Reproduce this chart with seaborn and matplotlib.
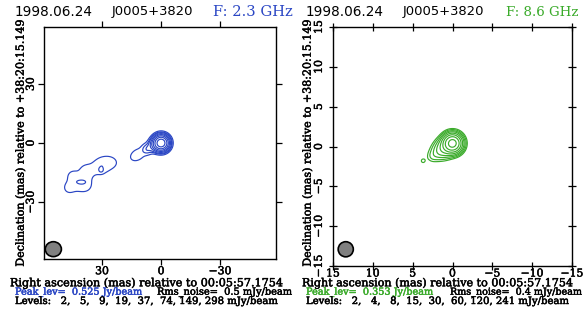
import numpy as np
import matplotlib
matplotlib.use("Agg")
import matplotlib.pyplot as plt
import matplotlib.patheffects as pe
import seaborn as sns
from matplotlib.patches import Ellipse

# ---------------- data ----------------
obs_date = "1998.06.24"
source_name = "J0005+3820"
freq_labels = ["F: 2.3 GHz", "F: 8.6 GHz"]
ra_ref = "00:05:57.1754"
dec_ref = "+38:20:15.149"
peak_jy = [0.525, 0.353]
rms_mjy = [0.5, 0.4]
levels_s = [2, 5, 9, 19, 37, 74, 149, 298]
levels_x = [2, 4, 8, 15, 30, 60, 120, 241]
ticks_s = [30, 0, -30]
ticks_x = [15, 10, 5, 0, -5, -10, -15]

# source model components:
# RA (mas), Dec (mas), peak (mJy/beam), sigma along PA (mas), sigma across (mas), PA (deg)
s_ra  = [0.0, 3.0, 7.0, 12.0, 27.0, 31.0, 38.0, 44.0, 38.5, 40.5, 47.0, 45.0, 30.5]
s_dec = [0.0, -1.0, -3.0, -6.0, -10.0, -12.5, -14.5, -20.5, -21.5, -19.8, -23.0, -16.5, -14.0]
s_amp = [515.0, 30.0, 8.0, 4.0, 3.3, 2.9, 3.2, 3.4, 3.0, 3.0, 2.4, 2.3, 3.0]
s_sa  = [1.85, 1.8, 1.7, 3.2, 4.2, 2.8, 3.2, 3.2, 2.8, 1.4, 1.8, 1.8, 0.9]
s_sb  = [1.85, 1.8, 1.7, 2.2, 3.0, 2.8, 3.2, 3.2, 2.8, 0.6, 1.8, 1.8, 0.9]
s_pa  = [0.0, 0.0, 0.0, -32.0, 0.0, 0.0, 0.0, 0.0, 0.0, 0.0, 0.0, 0.0, 0.0]

x_ra  = [0.0, 1.0, 1.9, 2.6, 3.7]
x_dec = [0.4, -0.2, -0.8, -1.3, -1.8]
x_amp = [330.0, 30.0, 7.0, 2.5, 2.5]
x_sa  = [0.58, 0.65, 0.6, 0.45, 0.3]
x_sb  = [0.58, 0.65, 0.6, 0.45, 0.3]
x_pa  = [0.0, 0.0, 0.0, 0.0, 0.0]

# restoring beams: RA, Dec, width, height (mas)
beam_s = [54.8, -54.0, 8.2, 7.6]
beam_x = [13.4, -12.9, 1.9, 1.9]

BLUE = "#2a46c4"
GREEN = "#3bab2b"
SERIF = "DejaVu Serif"

# ---------------- figure ----------------
sns.set_theme(style="ticks")
plt.rcParams['font.family'] = ['DejaVu Sans']
plt.rcParams['axes.linewidth'] = 1.0

W, H = 583, 313
fig = plt.figure(figsize=(W / 100, H / 100), dpi=100)
renderer = fig.canvas.get_renderer()


def heavy(color):
    return [pe.withStroke(linewidth=0.35, foreground=color)]


def model(ra, dec, amp, sa, sb, pa, xr, yr):
    X, Y = np.meshgrid(np.linspace(xr[0], xr[1], 500), np.linspace(yr[0], yr[1], 500))
    Z = np.zeros_like(X)
    for r, d, a, s1, s2, p in zip(ra, dec, amp, sa, sb, pa):
        t = np.deg2rad(p)
        dx, dy = X - r, Y - d
        u = dx * np.cos(t) + dy * np.sin(t)
        v = -dx * np.sin(t) + dy * np.cos(t)
        Z += a * np.exp(-0.5 * (u ** 2 / s1 ** 2 + v ** 2 / s2 ** 2))
    return X, Y, Z


def fit_text(x0, x1, y, s, color="black", family=SERIF, bold=True, size0=10):
    t = fig.text(x0 / W, 1 - y / H, s, ha="left", va="center", fontsize=size0,
                 family=family, color=color)
    w = t.get_window_extent(renderer=renderer).width
    t.set_fontsize(size0 * (x1 - x0) / w)
    if bold:
        t.set_path_effects(heavy(color))
    return t


def fit_vtext(xc, y0, y1, s, family=SERIF, size0=10):
    t = fig.text(xc / W, 1 - (y0 + y1) / 2 / H, s, ha="center", va="center", rotation=90,
                 fontsize=size0, family=family, color="black")
    h = t.get_window_extent(renderer=renderer).height
    t.set_fontsize(size0 * (y1 - y0) / h)
    t.set_path_effects(heavy("black"))
    return t


def fmt(v):
    return str(v).replace("-", "\u2212")


panels = [
    dict(box=(43.5, 27, 276, 259), xlim=(59.8, -58.4), ylim=(-59, 59), ticks=ticks_s,
         comps=(s_ra, s_dec, s_amp, s_sa, s_sb, s_pa), levels=levels_s, color=BLUE,
         beam=beam_s, direction="out", tlen=4, xpad=1.2, ypad=1.6),
    dict(box=(333, 27, 572, 266), xlim=(15, -15), ylim=(-15, 15), ticks=ticks_x,
         comps=(x_ra, x_dec, x_amp, x_sa, x_sb, x_pa), levels=levels_x, color=GREEN,
         beam=beam_x, direction="inout", tlen=6, xpad=-1.2, ypad=3.6),
]

for p in panels:
    x0, y0, x1, y1 = p["box"]
    ax = fig.add_axes([x0 / W, 1 - y1 / H, (x1 - x0) / W, (y1 - y0) / H])
    ax.set_facecolor("white")
    X, Y, Z = model(*p["comps"], p["xlim"][::-1], p["ylim"])
    ax.contour(X, Y, Z, levels=p["levels"], colors=p["color"], linewidths=0.85)
    bx, by, bw, bh = p["beam"]
    ax.add_patch(Ellipse((bx, by), bw, bh, facecolor="#808080", edgecolor="black", lw=1.2))
    ax.set_xlim(*p["xlim"])
    ax.set_ylim(*p["ylim"])
    ax.set_xticks(p["ticks"])
    ax.set_xticklabels([fmt(v) for v in p["ticks"]], family=SERIF, fontsize=7.8)
    ax.set_yticks(p["ticks"])
    ax.set_yticklabels([fmt(v) for v in p["ticks"]], family=SERIF, fontsize=7.8,
                       rotation=90, va="center")
    for lbl in ax.get_xticklabels() + ax.get_yticklabels():
        lbl.set_path_effects(heavy("black"))
    ax.tick_params(axis="both", direction=p["direction"], length=p["tlen"], width=0.9,
                   top=True, right=True, colors="black")
    ax.tick_params(axis="x", pad=p["xpad"])
    ax.tick_params(axis="y", pad=p["ypad"])
    for sp in ax.spines.values():
        sp.set_color("black")
        sp.set_linewidth(1.0)
        sp.set_visible(True)

# titles
for (xd, xs, xf, xe), col, fl in [((15, 112, 213, 292), BLUE, freq_labels[0]),
                                  ((306, 403, 506, 578), GREEN, freq_labels[1])]:
    fit_text(xd, xd + 78, 12, obs_date, family="DejaVu Sans", bold=False)
    fit_text(xs, xs + 81, 12, source_name, family="DejaVu Sans", bold=False)
    fit_text(xf, xe, 12, fl, color=col, family=SERIF, bold=False)

# axis labels and notes
ra_label = "Right ascension (mas) relative to " + ra_ref
dec_label = "Declination (mas) relative to " + dec_ref
fit_text(10, 283, 283, ra_label)
fit_text(302, 573, 283, ra_label)
fit_vtext(20.5, 20, 267, dec_label)
fit_vtext(307.5, 20, 267, dec_label)

fit_text(15, 142, 292.5, f"Peak_lev=  {peak_jy[0]:.3f} Jy/beam", color=BLUE)
fit_text(157, 292, 292.5, f"Rms_noise=  {rms_mjy[0]:.1f} mJy/beam")
fit_text(306, 433, 292.5, f"Peak_lev=  {peak_jy[1]:.3f} Jy/beam", color=GREEN)
fit_text(450, 582, 292.5, f"Rms_noise=  {rms_mjy[1]:.1f} mJy/beam")

lev_s = "Levels: " + ", ".join(f"{v:3d}" for v in levels_s) + " mJy/beam"
lev_x = "Levels: " + ", ".join(f"{v:3d}" for v in levels_x) + " mJy/beam"
fit_text(15, 277, 301.5, lev_s)
fit_text(306, 568, 301.5, lev_x)

fig.savefig("out.png", dpi=100, facecolor="white")
